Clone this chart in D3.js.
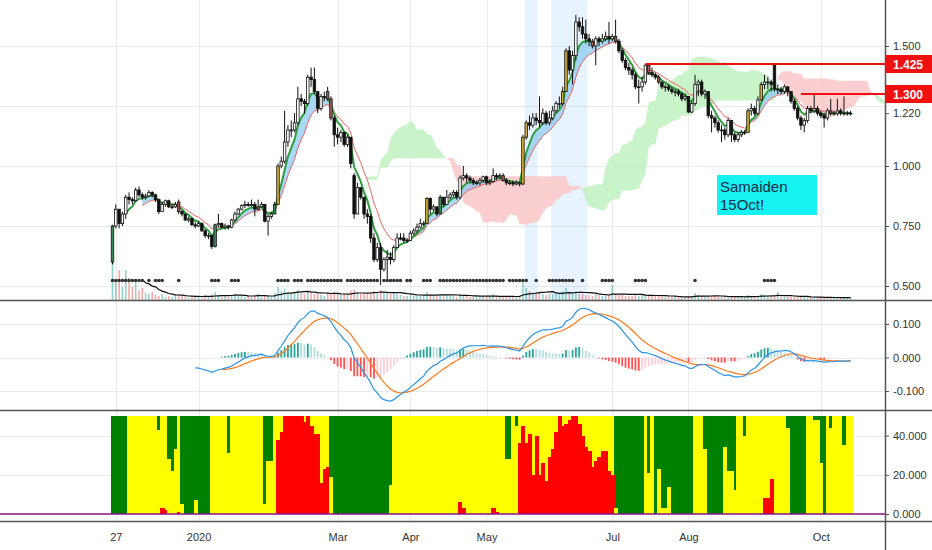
<!DOCTYPE html>
<html>
<head>
<meta charset="utf-8">
<script src="https://cdn.jsdelivr.net/npm/d3@7"></script>
<style>
  body { margin: 0; background: #fff; }
  svg text { font-family: "Liberation Sans", Arial, sans-serif; }
</style>
</head>
<body>
<svg id="chart" width="932" height="550"></svg>
<script>
// ---- data (daily bars, 26 Nov 2019 .. mid Oct 2020) ----
var opens = [
  .60,.75,.82,.76,.80,.87,.86,.855,.90,.88,
  .87,.875,.89,.88,.86,.81,.84,.855,.83,.83,
  .85,.81,.80,.775,.78,.755,.75,.76,.73,.71,
  .71,.665,.755,.76,.745,.75,.745,.775,.80,.82,
  .835,.84,.835,.84,.82,.83,.84,.77,.79,.80,
  .84,1.00,1.02,1.10,1.15,1.15,1.18,1.28,1.27,1.26,
  1.37,1.36,1.31,1.24,1.29,1.31,1.28,1.20,1.13,1.12,
  1.14,1.09,1.12,.96,.80,.91,.87,.80,.79,.70,
  .61,.66,.57,.61,.62,.61,.66,.70,.70,.69,
  .69,.72,.73,.745,.76,.76,.865,.82,.83,.80,
  .87,.84,.87,.88,.89,.87,.95,.96,.95,.94,
  .93,.93,.94,.955,.93,.935,.96,.955,.96,.94,
  .93,.93,.925,.93,.925,1.12,1.18,1.17,1.20,1.19,
  1.18,1.22,1.18,1.20,1.23,1.26,1.26,1.31,1.48,1.40,
  1.46,1.60,1.58,1.55,1.53,1.52,1.50,1.53,1.52,1.53,
  1.54,1.53,1.54,1.52,1.48,1.44,1.41,1.40,1.38,1.33,
  1.33,1.35,1.42,1.39,1.38,1.37,1.35,1.33,1.33,1.32,
  1.31,1.31,1.30,1.28,1.29,1.225,1.26,1.34,1.35,1.30,
  1.31,1.21,1.20,1.18,1.15,1.15,1.13,1.19,1.13,1.11,
  1.13,1.14,1.14,1.23,1.24,1.22,1.275,1.34,1.35,1.35,
  1.42,1.32,1.32,1.31,1.33,1.31,1.27,1.24,1.20,1.17,
  1.19,1.24,1.23,1.24,1.22,1.21,1.20,1.23,1.22,1.22,
  1.23,1.22,1.22,1.22
];
var highs = [
  .755,.84,.82,.81,.88,.89,.87,.91,.915,.89,
  .885,.90,.895,.885,.865,.85,.86,.86,.84,.85,
  .86,.815,.80,.79,.785,.765,.77,.765,.735,.72,
  .715,.76,.80,.765,.76,.755,.78,.81,.825,.84,
  .855,.85,.86,.85,.86,.85,.84,.80,.81,.85,
  1.01,1.04,1.23,1.17,1.19,1.22,1.33,1.30,1.28,1.38,
  1.41,1.41,1.31,1.30,1.31,1.33,1.29,1.21,1.16,1.15,
  1.14,1.13,1.12,.97,.93,.91,.87,.82,.80,.72,
  .68,.68,.62,.65,.64,.67,.72,.72,.72,.70,
  .73,.74,.76,.78,.77,.87,.87,.84,.83,.88,
  .87,.90,.89,.90,.90,.96,1.00,.97,.96,.95,
  .94,.95,.96,.96,.945,.99,.97,.97,.97,.95,
  .94,.94,.94,.935,1.13,1.19,1.21,1.22,1.22,1.29,
  1.24,1.23,1.23,1.25,1.27,1.29,1.33,1.49,1.50,1.48,
  1.63,1.62,1.62,1.61,1.55,1.53,1.54,1.54,1.55,1.56,
  1.60,1.55,1.61,1.53,1.49,1.45,1.43,1.41,1.39,1.36,
  1.37,1.425,1.425,1.41,1.39,1.38,1.35,1.34,1.34,1.33,
  1.32,1.32,1.31,1.30,1.29,1.27,1.38,1.36,1.36,1.32,
  1.31,1.23,1.21,1.19,1.17,1.16,1.20,1.19,1.14,1.14,
  1.15,1.15,1.24,1.26,1.25,1.29,1.35,1.38,1.37,1.36,
  1.425,1.34,1.33,1.34,1.33,1.31,1.28,1.25,1.21,1.20,
  1.25,1.25,1.30,1.25,1.23,1.22,1.24,1.28,1.23,1.28,
  1.24,1.29,1.23,1.23
];
var lows = [
  .59,.74,.74,.75,.78,.84,.84,.85,.87,.86,
  .86,.87,.87,.85,.80,.81,.83,.825,.82,.825,
  .80,.79,.77,.765,.75,.74,.745,.725,.70,.695,
  .655,.66,.745,.74,.735,.735,.74,.77,.795,.815,
  .825,.83,.83,.79,.815,.825,.765,.71,.78,.80,
  .84,.99,1.01,1.08,1.12,1.14,1.17,1.25,1.22,1.25,
  1.33,1.30,1.22,1.23,1.27,1.27,1.19,1.08,1.09,1.10,
  1.08,1.08,.99,.78,.80,.86,.78,.76,.68,.60,
  .60,.505,.56,.52,.59,.60,.66,.69,.68,.68,
  .69,.71,.72,.74,.75,.76,.80,.81,.79,.80,
  .83,.84,.86,.87,.86,.86,.94,.93,.93,.92,
  .92,.92,.93,.92,.92,.93,.94,.945,.935,.92,
  .92,.915,.92,.915,.92,1.11,1.15,1.16,1.17,1.16,
  1.17,1.17,1.17,1.19,1.22,1.24,1.25,1.31,1.38,1.34,
  1.44,1.56,1.53,1.51,1.50,1.49,1.42,1.50,1.51,1.52,
  1.51,1.52,1.51,1.47,1.43,1.40,1.38,1.36,1.32,1.26,
  1.31,1.34,1.38,1.37,1.36,1.34,1.32,1.31,1.31,1.30,
  1.29,1.29,1.27,1.27,1.22,1.22,1.25,1.29,1.29,1.28,
  1.20,1.14,1.16,1.14,1.10,1.11,1.12,1.10,1.10,1.10,
  1.12,1.13,1.14,1.21,1.21,1.21,1.27,1.32,1.32,1.31,
  1.31,1.30,1.30,1.30,1.29,1.26,1.23,1.19,1.15,1.14,
  1.18,1.22,1.22,1.21,1.20,1.16,1.19,1.21,1.21,1.21,
  1.21,1.21,1.21,1.21
];
var closes = [
  .75,.82,.76,.80,.87,.86,.855,.90,.88,.87,
  .875,.89,.88,.86,.81,.84,.855,.83,.83,.84,
  .81,.80,.775,.78,.755,.75,.76,.73,.71,.71,
  .665,.755,.76,.745,.75,.745,.775,.80,.82,.835,
  .84,.835,.84,.82,.83,.84,.77,.79,.80,.84,
  1.00,1.02,1.10,1.15,1.15,1.18,1.28,1.27,1.26,1.37,
  1.36,1.31,1.24,1.29,1.29,1.28,1.20,1.13,1.12,1.14,
  1.09,1.12,1.01,.80,.91,.87,.80,.79,.70,.61,
  .66,.57,.61,.62,.61,.66,.70,.70,.69,.69,
  .72,.73,.745,.76,.76,.865,.82,.83,.80,.87,
  .84,.87,.88,.89,.87,.95,.96,.95,.94,.93,
  .93,.94,.955,.93,.935,.96,.955,.96,.94,.93,
  .93,.925,.93,.925,1.12,1.18,1.17,1.20,1.19,1.18,
  1.22,1.18,1.20,1.23,1.26,1.26,1.31,1.48,1.40,1.46,
  1.60,1.58,1.55,1.53,1.52,1.50,1.53,1.52,1.53,1.54,
  1.53,1.54,1.52,1.48,1.44,1.41,1.40,1.38,1.33,1.33,
  1.35,1.42,1.39,1.38,1.37,1.35,1.33,1.33,1.32,1.31,
  1.31,1.30,1.28,1.29,1.225,1.26,1.34,1.35,1.30,1.31,
  1.21,1.20,1.18,1.15,1.15,1.13,1.19,1.13,1.11,1.13,
  1.14,1.14,1.23,1.24,1.22,1.275,1.34,1.35,1.35,1.34,
  1.32,1.32,1.31,1.33,1.31,1.27,1.24,1.20,1.17,1.19,
  1.24,1.23,1.24,1.22,1.21,1.20,1.23,1.22,1.22,1.23,
  1.22,1.22,1.22,1.22
];
var volumes = [
  38,18,30,13,30,22,13,18,10,12,
  7,6,8,5,4,6,3,4,3,5,
  6,4,3,2,3,4,3,2,5,4,
  6,8,5,3,4,3,5,6,4,5,
  3,4,3,4,6,3,5,4,3,7,
  13,9,11,7,6,8,10,7,6,9,
  8,6,7,5,4,6,7,8,6,5,
  6,5,9,10,8,6,7,6,8,9,
  7,10,8,7,6,7,6,5,4,4,
  5,4,4,5,4,8,6,5,4,6,
  5,5,4,4,3,6,5,4,3,3,
  4,3,4,3,4,6,4,3,3,3,
  3,3,3,4,18,12,9,7,6,8,
  6,5,6,6,7,6,9,12,8,7,
  9,6,6,5,5,4,6,5,4,4,
  5,15,6,5,5,4,4,4,5,4,
  5,6,5,4,4,4,3,3,3,3,
  3,3,3,3,4,4,7,5,4,3,
  3,4,4,3,3,3,3,4,3,3,
  3,3,5,4,3,4,6,5,4,4,
  3,8,4,3,3,3,3,3,3,3,
  3,3,3,2,2,2,3,2,2,3,
  2,3,2,2
];
// highlighted candles (bar index)
var yellowBars = [50, 95, 124, 125, 136, 137, 191, 192, 196];
var brownBars = [20, 44, 65, 66, 118, 145, 152, 162, 165, 217, 221];
var greenBars = [0, 31, 49, 99, 123];
// bars carrying a black marker dot near the bottom of the price pane
var dotRanges = [[0,9],[11,11],[13,15],[20,20],[30,32],[36,38],[50,53],[55,57],[59,69],[71,80],
  [82,87],[89,90],[94,96],[99,118],[120,125],[128,128],[132,139],[142,142],[148,151],[158,161],
  [176,176],[197,200]];
// light blue vertical highlight bands (bar index ranges)
var bandRanges = [[125,128],[133,143]];
// bottom indicator: base colour per bar (G green / Y yellow) and overlay height
var trendState = ("GGGGG YYYYYYYYY G YY GGG Y GGGGGGGGG YYYYY G YYYYYYYYYY GGG YYYYYYYYYYYYYYYYY " +
  "GGGGGGGGGGGGGGGGGGG YYYYYYYYYYYYYYYYYYYYYYYYYYYYYYYYYY GG Y G YYYYYYYYYYYYYYYYYYYYYYYYYYYYY " +
  "GGGGGGGGG Y G Y GGGGGGGGGGGG YYY GGGGGGGGGG YY G YYYYYYYYYYYY GGGGGG YY GGGG Y G YYY G YY")
  .replace(/ /g, "").split("");
var trendVal = [
  0,0,0,0,0,0,0,0,0,0,
  0,0,0,0,43,3,2,28,22,33,
  1,5,0,0,0,7,0,0,0,0,
  0,0,0,0,0,31,0,0,0,0,
  0,0,0,0,0,0,5,27,27,0,
  38,42,50,50,50,50,50,50,47,50,
  45,41,41,16,23,24,19,0,0,0,
  0,0,0,0,0,0,0,0,0,0,
  0,0,0,0,15,0,0,0,0,0,
  0,0,0,0,0,0,0,0,0,0,
  0,0,0,0,0,6,3,0,0,0,
  0,0,0,0,0,3,1,0,0,28,
  28,0,45,36,45,36,41,20,40,20,
  26,17,29,33,42,50,45,46,48,50,
  50,46,40,34,32,24,27,29,32,32,
  22,20,3,0,0,0,0,0,0,0,
  0,0,21,0,0,23,3,3,14,0,
  0,0,0,0,0,0,0,0,0,33,
  0,0,0,0,0,34,22,22,12,0,
  0,40,0,0,0,0,0,8,8,18,
  0,0,0,0,44,0,0,0,0,0,
  0,0,48,48,26,0,0,44,0,0,
  0,35,0,0
];
var tickIdx = [1, 26, 68, 90, 113, 151, 174, 214];
var tickLabels = ["27", "2020", "Mar", "Apr", "May", "Jul", "Aug", "Oct"];
var priceGrid = [1.5, 1.25, 1.0, 0.75, 0.5];
var priceTicks = [1.5, 1.22, 1.0, 0.75, 0.5];
var macdTicks = [0.1, 0, -0.1];
var trendTicks = [40, 20, 0];
var levelPrices = [1.425, 1.3];
var levelFrom = [161, 208];
var noteLines = ["Samaiden", "15Oct!"];

var N = closes.length;
[opens, highs, lows, volumes, trendVal, trendState].forEach(function(a) {
  if (a.length !== N) throw new Error("array length " + a.length + " != " + N);
});

// ---- layout ----
var axisX = 885;
var svg = d3.select("#chart");
var x = d3.scaleLinear().domain([0, N - 1]).range([112.5, 850.6]);
var step = x(1) - x(0);
var yP = d3.scaleLinear().domain([0.5, 1.5]).range([286, 46]);
var yVol = d3.scaleLinear().domain([0, d3.max(volumes)]).range([300, 262]);
var yM = d3.scaleLinear().domain([-0.1, 0.1]).range([391, 324]);
var yT = d3.scaleLinear().domain([0, 50]).range([514, 416]);

var defs = svg.append("defs");
function clip(id, y0, y1) {
  defs.append("clipPath").attr("id", id).append("rect")
    .attr("x", 0).attr("y", y0).attr("width", axisX).attr("height", y1 - y0);
}
clip("cMain", 0, 300);
clip("cMacd", 301, 410);
clip("cTrend", 411, 521);

svg.append("rect").attr("width", 932).attr("height", 550).attr("fill", "#fff");

// ---- indicators ----
function ema(src, n) {
  var out = src.map(function() { return null; });
  var k = 2 / (n + 1), run = 0, sum = 0, prev = null;
  src.forEach(function(v, i) {
    if (v == null) return;
    if (prev == null) {
      run++; sum += v;
      if (run === n) { prev = sum / n; out[i] = prev; }
    } else {
      prev = v * k + prev * (1 - k);
      out[i] = prev;
    }
  });
  return out;
}
function sma(src, n) {
  return src.map(function(v, i) {
    return i < n - 1 ? null : d3.mean(src.slice(i - n + 1, i + 1));
  });
}
function donchian(i, n) {
  if (i < n - 1) return null;
  return (d3.max(highs.slice(i - n + 1, i + 1)) + d3.min(lows.slice(i - n + 1, i + 1))) / 2;
}

var fast = ema(closes, 5), slow = ema(closes, 10);
var volMa = sma(volumes, 10);
var e12 = ema(closes, 12), e26 = ema(closes, 26);
var macd = closes.map(function(c, i) { return e26[i] == null ? null : e12[i] - e26[i]; });
var signal = ema(macd, 9);
var hist = macd.map(function(m, i) { return signal[i] == null ? null : m - signal[i]; });

// ichimoku cloud (9/26/52, shifted 25 bars ahead)
var cloud = [];
for (var i = 51; i < N; i++) {
  cloud.push({ i: i + 25, a: (donchian(i, 9) + donchian(i, 26)) / 2, b: donchian(i, 52) });
}
var runs = [], cur = null;
cloud.forEach(function(p, k) {
  var up = p.a >= p.b;
  if (!cur) { cur = { up: up, pts: [p] }; return; }
  if (up !== cur.up) {
    var q = cloud[k - 1], dq = q.a - q.b, dp = p.a - p.b, t = dq / (dq - dp);
    var m = { i: q.i + t, a: q.a + t * (p.a - q.a) };
    m.b = m.a;
    cur.pts.push(m); runs.push(cur);
    cur = { up: up, pts: [m, p] };
  } else cur.pts.push(p);
});
runs.push(cur);

// ---- grid ----
var grid = svg.append("g").attr("stroke", "#e8ecf0").attr("stroke-width", 1);
grid.selectAll("line.v").data(tickIdx).enter().append("line")
  .attr("x1", function(d) { return Math.round(x(d)) + 0.5; })
  .attr("x2", function(d) { return Math.round(x(d)) + 0.5; })
  .attr("y1", 0).attr("y2", 521);
grid.selectAll("line.p").data(priceGrid).enter().append("line")
  .attr("x1", 0).attr("x2", axisX)
  .attr("y1", function(d) { return Math.round(yP(d)) + 0.5; })
  .attr("y2", function(d) { return Math.round(yP(d)) + 0.5; });
grid.selectAll("line.m").data(macdTicks).enter().append("line")
  .attr("x1", 0).attr("x2", axisX)
  .attr("y1", function(d) { return Math.round(yM(d)) + 0.5; })
  .attr("y2", function(d) { return Math.round(yM(d)) + 0.5; });
grid.selectAll("line.t").data([40, 20]).enter().append("line")
  .attr("x1", 0).attr("x2", axisX)
  .attr("y1", function(d) { return Math.round(yT(d)) + 0.5; })
  .attr("y2", function(d) { return Math.round(yT(d)) + 0.5; });

// ---- price pane ----
var main = svg.append("g").attr("clip-path", "url(#cMain)");

main.selectAll("rect.band").data(bandRanges).enter().append("rect")
  .attr("x", function(d) { return x(d[0]) - step / 2; })
  .attr("width", function(d) { return x(d[1]) - x(d[0]) + step; })
  .attr("y", 0).attr("height", 300)
  .attr("fill", "#2196f3").attr("fill-opacity", 0.11);

var cloudArea = d3.area()
  .x(function(d) { return x(d.i); })
  .y0(function(d) { return yP(d.b); })
  .y1(function(d) { return yP(d.a); });
main.selectAll("path.cloud").data(runs).enter().append("path")
  .attr("d", function(r) { return cloudArea(r.pts); })
  .attr("fill", function(r) { return r.up ? "#c3f2c3" : "#fbcaca"; })
  .attr("fill-opacity", 0.9);

// volume
main.selectAll("rect.vol").data(volumes).enter().append("rect")
  .attr("x", function(d, i) { return x(i) - 0.8; })
  .attr("width", 1.6)
  .attr("y", function(d) { return yVol(d); })
  .attr("height", function(d) { return 300 - yVol(d); })
  .attr("fill", function(d, i) { return closes[i] >= opens[i] ? "#26a69a" : "#ef5350"; })
  .attr("fill-opacity", 0.5);
main.append("path")
  .datum(volMa.map(function(v, i) { return [i, v]; }).filter(function(d) { return d[1] != null; }))
  .attr("d", d3.line().x(function(d) { return x(d[0]); }).y(function(d) { return yVol(d[1]); }))
  .attr("fill", "none").attr("stroke", "#111").attr("stroke-width", 1.2);

// moving averages with ribbon
var maPts = fast.map(function(f, i) { return { i: i, f: f, s: slow[i] }; });
main.append("path")
  .attr("d", d3.area()
    .defined(function(d) { return d.f != null && d.s != null && d.f > d.s; })
    .x(function(d) { return x(d.i); })
    .y0(function(d) { return yP(d.s); })
    .y1(function(d) { return yP(d.f); })(maPts))
  .attr("fill", "#8ec9f2").attr("fill-opacity", 0.75);
main.append("path")
  .attr("d", d3.line().defined(function(d) { return d.s != null; })
    .x(function(d) { return x(d.i); }).y(function(d) { return yP(d.s); })(maPts))
  .attr("fill", "none").attr("stroke", "#f0645e").attr("stroke-width", 1);
main.append("path")
  .attr("d", d3.line().defined(function(d) { return d.f != null; })
    .x(function(d) { return x(d.i); }).y(function(d) { return yP(d.f); })(maPts))
  .attr("fill", "none").attr("stroke", "#2f9e3f").attr("stroke-width", 2);

// candles
var candles = main.selectAll("g.c").data(closes).enter().append("g");
candles.append("line")
  .attr("x1", function(d, i) { return x(i); }).attr("x2", function(d, i) { return x(i); })
  .attr("y1", function(d, i) { return yP(highs[i]); })
  .attr("y2", function(d, i) { return yP(lows[i]); })
  .attr("stroke", "#111").attr("stroke-width", 1);
candles.append("rect")
  .attr("x", function(d, i) { return x(i) - 1.25; })
  .attr("width", 2.5)
  .attr("y", function(d, i) { return yP(Math.max(opens[i], d)); })
  .attr("height", function(d, i) { return Math.max(0.8, Math.abs(yP(opens[i]) - yP(d))); })
  .attr("fill", function(d, i) {
    if (yellowBars.indexOf(i) >= 0) return "#d8b22e";
    if (brownBars.indexOf(i) >= 0) return "#a85a5a";
    if (greenBars.indexOf(i) >= 0) return "#3e8a5e";
    return d >= opens[i] ? "#fff" : "#111";
  })
  .attr("stroke", "#111").attr("stroke-width", 0.8);

// marker dots
var dotBars = [];
dotRanges.forEach(function(r) { for (var k = r[0]; k <= r[1]; k++) dotBars.push(k); });
main.selectAll("circle.dot").data(dotBars).enter().append("circle")
  .attr("cx", function(d) { return x(d); }).attr("cy", 280.5).attr("r", 1.8)
  .attr("fill", "#333");

// horizontal level lines
main.selectAll("line.lvl").data(levelPrices).enter().append("line")
  .attr("x1", function(d, k) { return x(levelFrom[k]); }).attr("x2", axisX)
  .attr("y1", function(d) { return yP(d); }).attr("y2", function(d) { return yP(d); })
  .attr("stroke", "#f01010").attr("stroke-width", 2);

// note box
var note = main.append("g").attr("transform", "translate(717,175)");
note.append("rect").attr("width", 100).attr("height", 40).attr("fill", "#14f2f2");
note.selectAll("text").data(noteLines).enter().append("text")
  .attr("x", 3).attr("y", function(d, k) { return 17 + k * 18; })
  .attr("font-size", 15).attr("fill", "#1d2a4a").text(function(d) { return d; });

// ---- MACD pane ----
var mp = svg.append("g").attr("clip-path", "url(#cMacd)");
var histPts = hist.map(function(h, i) { return { i: i, h: h, p: i > 0 ? hist[i - 1] : null }; })
  .filter(function(d) { return d.h != null; });
mp.selectAll("rect.h").data(histPts).enter().append("rect")
  .attr("x", function(d) { return x(d.i) - 0.9; }).attr("width", 1.8)
  .attr("y", function(d) { return Math.min(yM(0), yM(d.h)); })
  .attr("height", function(d) { return Math.abs(yM(0) - yM(d.h)); })
  .attr("fill", function(d) {
    var rising = d.p == null || d.h >= d.p;
    if (d.h >= 0) return rising ? "#26a69a" : "#b2dfdb";
    return rising ? "#ffcdd2" : "#ff5252";
  });
function seriesLine(arr, color) {
  mp.append("path")
    .attr("d", d3.line().defined(function(d) { return d != null; })
      .x(function(d, i) { return x(i); }).y(function(d) { return yM(d); })(arr))
    .attr("fill", "none").attr("stroke", color).attr("stroke-width", 1.2);
}
seriesLine(signal, "#ff7a1a");
seriesLine(macd, "#2b94e8");

// ---- trend colour pane ----
var tp = svg.append("g").attr("clip-path", "url(#cTrend)").attr("shape-rendering", "crispEdges");
tp.selectAll("rect.base").data(trendState).enter().append("rect")
  .attr("x", function(d, i) { return x(i) - step / 2; }).attr("width", step + 0.8)
  .attr("y", yT(50)).attr("height", yT(0) - yT(50))
  .attr("fill", function(d) { return d === "G" ? "#008000" : "#ffff00"; });
tp.selectAll("rect.over").data(trendVal).enter().append("rect")
  .attr("x", function(d, i) { return x(i) - step / 2; }).attr("width", step + 0.8)
  .attr("y", function(d) { return yT(d); })
  .attr("height", function(d) { return yT(0) - yT(d); })
  .attr("fill", function(d, i) { return trendState[i] === "G" ? "#ffff00" : "#ff0000"; });
svg.append("line").attr("x1", 0).attr("x2", axisX).attr("y1", yT(0)).attr("y2", yT(0))
  .attr("stroke", "#8a128a").attr("stroke-width", 1.5);

// ---- separators ----
var sep = svg.append("g").attr("stroke", "#555").attr("stroke-width", 1.5);
[300.5, 410.5, 521.5].forEach(function(yy) {
  sep.append("line").attr("x1", 0).attr("x2", 932).attr("y1", yy).attr("y2", yy);
});
sep.append("line").attr("x1", axisX + 0.5).attr("x2", axisX + 0.5).attr("y1", 0).attr("y2", 550);

// ---- axes ----
function rightAxis(scale, ticks) {
  var g = svg.append("g").attr("transform", "translate(" + axisX + ",0)")
    .call(d3.axisRight(scale).tickValues(ticks).tickSize(4).tickPadding(4)
      .tickFormat(function(v) { return v.toFixed(3); }));
  g.select(".domain").remove();
  g.selectAll("line").attr("stroke", "#555");
  g.selectAll("text").attr("fill", "#333").attr("font-size", 11)
    .attr("font-family", "Liberation Sans, Arial, sans-serif");
}
rightAxis(yP, priceTicks);
rightAxis(yM, macdTicks);
rightAxis(yT, trendTicks);

var xa = svg.append("g").attr("transform", "translate(0,521)")
  .call(d3.axisBottom(x).tickValues(tickIdx).tickSize(0).tickPadding(12)
    .tickFormat(function(d, k) { return tickLabels[k]; }));
xa.select(".domain").remove();
xa.selectAll("text").attr("fill", "#333").attr("font-size", 11)
  .attr("font-family", "Liberation Sans, Arial, sans-serif");

// level price labels on the axis
levelPrices.forEach(function(p) {
  var g = svg.append("g").attr("transform", "translate(" + axisX + "," + yP(p) + ")");
  g.append("rect").attr("x", 0).attr("y", -9).attr("width", 47).attr("height", 18).attr("fill", "#f01010");
  g.append("text").attr("x", 23).attr("y", 4.5).attr("text-anchor", "middle")
    .attr("font-size", 12).attr("font-weight", "bold").attr("fill", "#fff").text(p.toFixed(3));
});
</script>
</body>
</html>
